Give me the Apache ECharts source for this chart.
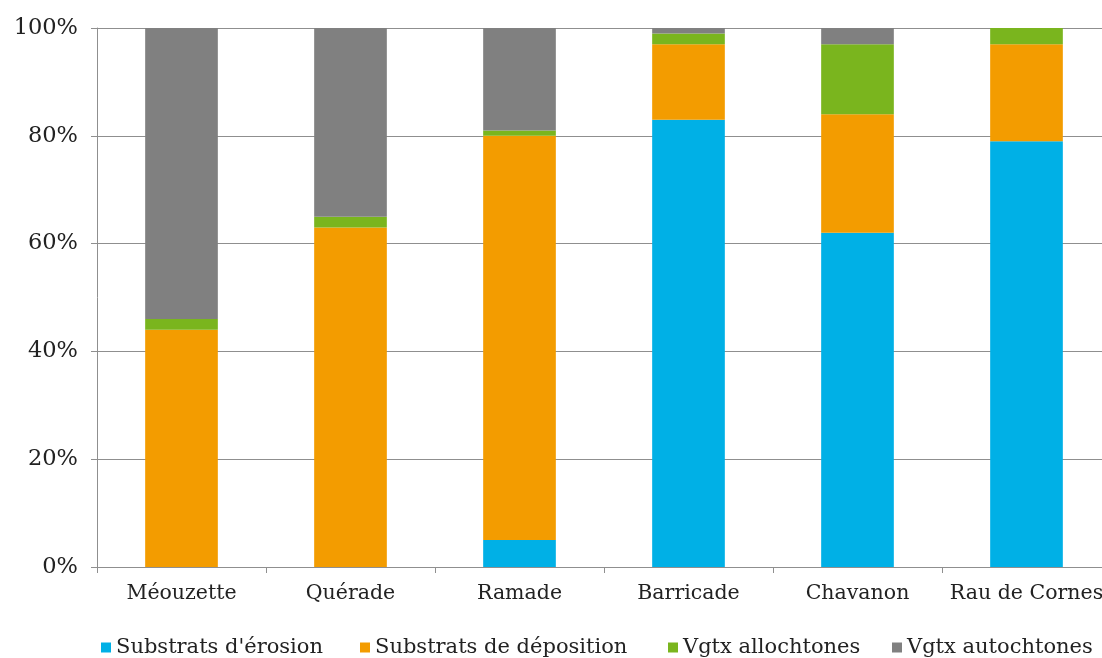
<!DOCTYPE html>
<html>
<head>
<meta charset="utf-8">
<script src="https://cdn.jsdelivr.net/npm/echarts@6/dist/echarts.min.js"></script>
<style>
  html, body { margin: 0; padding: 0; background: #fff; }
  #chart { width: 1102px; height: 658px; }
</style>
</head>
<body>
<div id="chart"></div>
<script>
// Sites along the x axis
const sites = ['Méouzette', 'Quérade', 'Ramade', 'Barricade', 'Chavanon', 'Rau de Cornes'];

// Share of each habitat type per site (%)
const erosion     = [0, 0, 5, 83, 62, 79];
const deposition  = [44, 63, 75, 14, 22, 18];
const allochtones = [2, 2, 1, 2, 13, 3];
const autochtones = [54, 35, 19, 1, 3, 0];

const seriesNames = ["Substrats d'érosion", 'Substrats de déposition', 'Vgtx allochtones', 'Vgtx autochtones'];
const yTicks = [0, 20, 40, 60, 80, 100];

const colors = ['#00B0E6', '#F39C00', '#7AB51E', '#808080'];
const fontFamily = '"DejaVu Serif", "Liberation Serif", serif';

const chart = echarts.init(document.getElementById('chart'));

const values = [erosion, deposition, allochtones, autochtones];
// one legend block per entry, pinned at its own x position
const legendLefts = [96, 355, 663, 887];

chart.setOption({
  animation: false,
  backgroundColor: '#ffffff',
  color: colors,
  grid: {
    left: 97, top: 28, width: 1014, bottom: 91,
    containLabel: false,
    outerBoundsMode: 'none'
  },
  legend: seriesNames.map((name, i) => ({
    data: [name],
    left: legendLefts[i],
    top: 632,
    icon: 'rect',
    itemWidth: 10,
    itemHeight: 10,
    itemGap: 0,
    selectedMode: false,
    textStyle: { fontFamily, fontSize: 21, color: '#222' }
  })),
  xAxis: {
    type: 'category',
    data: sites,
    axisLine: { lineStyle: { color: '#8f8f8f', width: 1 } },
    axisTick: { show: true, length: 6, alignWithLabel: false, lineStyle: { color: '#8f8f8f' } },
    axisLabel: { fontFamily, fontSize: 20.5, color: '#222', margin: 16, interval: 0 }
  },
  yAxis: {
    type: 'value',
    min: yTicks[0],
    max: yTicks[yTicks.length - 1],
    interval: 20,
    axisLine: { show: true, lineStyle: { color: '#8f8f8f', width: 1 } },
    axisTick: { show: true, length: 6, lineStyle: { color: '#8f8f8f' } },
    axisLabel: { fontFamily, fontSize: 22.5, color: '#222', margin: 19, formatter: '{value}%' },
    splitLine: { lineStyle: { color: '#8f8f8f', width: 1 } }
  },
  series: seriesNames.map((name, i) => ({
    name,
    type: 'bar',
    stack: 'total',
    barWidth: '43%',
    data: values[i],
    itemStyle: { color: colors[i] }
  }))
});
</script>
</body>
</html>
